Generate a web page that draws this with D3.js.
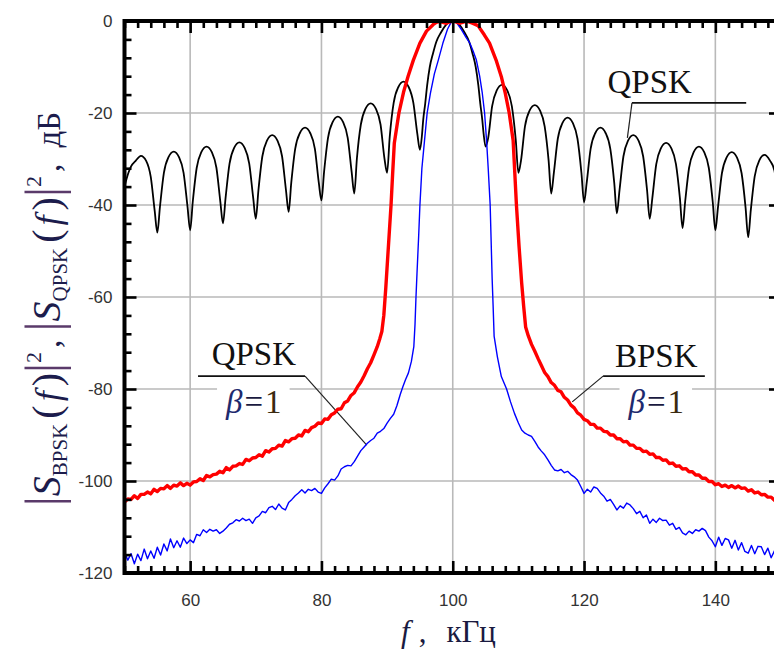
<!DOCTYPE html>
<html><head><meta charset="utf-8">
<script src="https://cdn.jsdelivr.net/npm/d3@7"></script>
<style>
html,body{margin:0;padding:0;background:#fff;overflow:hidden}
svg{display:block}
</style></head>
<body>
<svg id="chart" width="774" height="653"></svg>
<script>
// ---------------- DATA ----------------
const xTickValues = [60, 80, 100, 120, 140];
const yTickValues = [0, -20, -40, -60, -80, -100, -120];

// QPSK, rectangular pulse (black): [f kHz, dB]
const qpskRect = [
[50,-36],[50.6,-33],[51,-31.6],[51.7,-30.4],[52.5,-29.3],[53.3,-30.4],[54,-33.9],[54.6,-41.3],[55,-46],
[55.4,-40.4],[56,-33],[56.7,-29.6],[57.5,-28.4],[58.3,-29.6],[59,-33],[59.6,-40.4],[60,-45.5],
[60.4,-39.3],[61,-31.9],[61.7,-28.5],[62.5,-27.3],[63.3,-28.5],[64,-31.9],[64.6,-39.3],[65,-44],
[65.4,-38.4],[66,-31],[66.7,-27.6],[67.5,-26.4],[68.3,-27.6],[69,-31],[69.6,-38.4],[70,-43],
[70.4,-36.8],[71,-29.4],[71.7,-26],[72.5,-24.8],[73.3,-26],[74,-29.4],[74.6,-36.8],[75,-41.5],
[75.4,-35.2],[76,-27.8],[76.7,-24.4],[77.5,-23.2],[78.3,-24.4],[79,-27.8],[79.6,-35.2],[80,-39],
[80.4,-32.8],[81,-25.4],[81.7,-22],[82.5,-20.8],[83.3,-22],[84,-25.4],[84.6,-32.8],[85,-37.5],
[85.4,-29.9],[86,-22.5],[86.7,-19.1],[87.5,-17.9],[88.3,-19.1],[89,-22.5],[89.6,-29.9],[90,-33],
[90.4,-25.2],[91,-17.8],[91.7,-14.4],[92.5,-13.2],[93.3,-14.4],[94,-17.8],[94.6,-24.5],[95,-28],
[95.3,-25],[95.5,-21.5],[95.8,-18],[96.1,-14],[96.5,-10],[97,-7],[97.5,-4.5],[98.2,-2.5],[99,-0.8],[99.6,-0.1],[100,0],
[100.4,-0.1],[101,-0.8],[101.8,-2.5],[102.5,-4.5],[103,-7],[103.5,-10],[103.9,-14],[104.2,-18],[104.5,-21.5],[104.7,-24.5],[105,-27.3],
[105.4,-25.4],[106,-18.5],[106.7,-15.1],[107.5,-13.9],[108.3,-15.1],[109,-18.5],[109.6,-25.9],[110,-33],
[110.4,-30.3],[111,-22.9],[111.7,-19.5],[112.5,-18.3],[113.3,-19.5],[114,-22.9],[114.6,-30.3],[115,-37.5],
[115.4,-33],[116,-25.6],[116.7,-22.2],[117.5,-21],[118.3,-22.2],[119,-25.6],[119.6,-33],[120,-39.4],
[120.4,-35.2],[121,-27.8],[121.7,-24.4],[122.5,-23.2],[123.3,-24.4],[124,-27.8],[124.6,-35.2],[125,-41.8],
[125.4,-36.8],[126,-29.4],[126.7,-26],[127.5,-24.8],[128.3,-26],[129,-29.4],[129.6,-36.8],[130,-43],
[130.4,-38.5],[131,-31.1],[131.7,-27.7],[132.5,-26.5],[133.3,-27.7],[134,-31.1],[134.6,-38.5],[135,-45],
[135.4,-39.3],[136,-31.9],[136.7,-28.5],[137.5,-27.3],[138.3,-28.5],[139,-31.9],[139.6,-39.3],[140,-45.5],
[140.4,-40.5],[141,-33.1],[141.7,-29.7],[142.5,-28.5],[143.3,-29.7],[144,-33.1],[144.6,-40.5],[145,-47],
[145.4,-41.1],[146,-33.7],[146.7,-30.3],[147.5,-29.1],[148.3,-30.3],[149,-32.5],[149.6,-40],[150,-46]
];

// BPSK, raised cosine beta=1 (red)
const bpskTailLeft = [
[50,-104.6],[50.5,-103.9],[51,-104.0],[51.5,-103.2],[52,-103.8],[52.5,-102.9],[53,-102.9],[53.5,-102.4],[54,-102.8],[54.5,-101.8],
[55,-102.3],[55.5,-101.6],[56,-101.7],[56.5,-101.0],[57,-101.6],[57.5,-100.9],[58,-101.1],[58.5,-100.4],[59,-101.0],[59.5,-100.5],
[60,-100.9],[60.5,-100.2],[61,-100.1],[61.5,-99.5],[62,-99.9],[62.5,-98.8],[63,-99.1],[63.5,-98.6],[64,-98.5],[64.5,-97.9],
[65,-98.2],[65.5,-97.1],[66,-97.6],[66.5,-96.8],[67,-96.7],[67.5,-96.2],[68,-96.4],[68.5,-95.3],[69,-95.6],[69.5,-95.0],
[70,-94.9],[70.5,-94.3],[71,-94.6],[71.5,-93.4],[72,-93.7],[72.5,-93.0],[73,-92.9],[73.5,-92.2],[74,-92.4],[74.5,-91.2],
[75,-91.5],[75.5,-90.8],[76,-90.7],[76.5,-90.0],[77,-90.2],[77.5,-89.0],[78,-89.3],[78.5,-88.4],[79,-88.1],[79.5,-87.4],
[80,-87.5],[80.5,-86.5],[81,-86.6],[81.5,-85.6],[82,-85.2],[82.5,-84.4],[83,-84.3],[83.5,-83.0],[84,-82.6],[84.5,-81.4],
[85,-80.8],[85.5,-79.5],[86,-78.5],[86.5,-77.1],[87,-75.6],[87.5,-74.3],[88,-72.6],[88.5,-70.8],[88.9,-69]
];
const bpskMain = [
[89.2,-67.5],[89.5,-64],[89.8,-58],[90.2,-49],[90.6,-40],[90.85,-33],[91.1,-26.5],[91.8,-20],[92.5,-15.5],[93.2,-12],
[94,-8.5],[95,-4.8],[96,-2.2],[97,-0.8],[97.5,-0.3],[98,-0.1],[98.5,-0.3],[99,-0.5],[99.5,-0.2],[100,0],
[100.5,-0.2],[101,-0.5],[101.5,-0.3],[102,-0.1],[102.5,-0.2],[103,-0.5],[103.85,-1],[104.8,-3],[105.6,-4.8],[106.6,-8.5],
[107.4,-12.1],[108,-15.7],[108.6,-20],[109.2,-26],[109.7,-40],[110.1,-49],[110.5,-57],[110.8,-62],[111.1,-66.5]
];
const bpskTailRight = [
[111.5,-68.4],[112,-70.3],[112.5,-71.8],[113,-73.4],[113.5,-74.9],[114,-76.4],[114.5,-77.3],[115,-78.6],[115.5,-79.2],[116,-80.3],
[116.5,-80.6],[117,-81.8],[117.5,-82.4],[118,-83.5],[118.5,-84.1],[119,-85.2],[119.5,-85.7],[120,-86.6],[120.5,-86.9],[121,-87.7],
[121.5,-87.7],[122,-88.5],[122.5,-88.5],[123,-89.2],[123.5,-89.3],[124,-90.0],[124.5,-90.0],[125,-90.8],[125.5,-90.8],[126,-91.5],
[126.5,-91.4],[127,-92.2],[127.5,-92.2],[128,-92.9],[128.5,-92.9],[129,-93.6],[129.5,-93.5],[130,-94.2],[130.5,-94.1],[131,-94.9],
[131.5,-94.9],[132,-95.5],[132.5,-95.4],[133,-96.2],[133.5,-96.1],[134,-96.8],[134.5,-96.7],[135,-97.4],[135.5,-97.3],[136,-98.0],
[136.5,-98.0],[137,-98.7],[137.5,-98.7],[138,-99.4],[138.5,-99.4],[139,-100.1],[139.5,-100.1],[140,-100.8],[140.5,-100.6],[141,-101.2],
[141.5,-100.9],[142,-101.4],[142.5,-101.0],[143,-101.5],[143.5,-101.1],[144,-101.6],[144.5,-101.5],[145,-102.2],[145.5,-101.9],[146,-102.6],
[146.5,-102.4],[147,-103.0],[147.5,-102.9],[148,-103.5],[148.5,-103.5],[149,-104.2],[149.5,-104.0],[150,-104.6]
];

// QPSK, raised cosine beta=1 (blue)
const qpskTailLeft = [
[50,-115.5],[50.5,-117.2],[51,-115.8],[51.5,-118],[52,-115.9],[52.5,-117.3],[53,-114.8],[53.5,-116.9],[54,-115.2],[54.5,-116.8],
[55,-114.4],[55.5,-116.1],[56,-113.7],[56.5,-115.2],[57,-112.6],[57.5,-114.5],[58,-113],[58.5,-114.4],[59,-112.4],[59.5,-113.6],
[60,-112.8],[60.5,-113.4],[61,-111.6],[61.5,-111.9],[62,-110.6],[62.5,-111.2],[63,-110.5],[63.5,-110.9],[64,-110.6],[64.5,-111.4],
[65,-110.9],[65.5,-110.2],[66,-109.4],[66.5,-109.1],[67,-108.4],[67.5,-108.7],[68,-108.1],[68.5,-108.6],[69,-108.3],[69.5,-109.2],
[70,-108],[70.5,-107.6],[71,-106.6],[71.5,-106.9],[72,-105.8],[72.5,-105.5],[73,-106.2],[73.5,-105],[74,-105.9],[74.5,-106.3],
[75,-104.7],[75.5,-104],[76,-103.2],[76.5,-102.6],[77,-101.9],[77.5,-102.6],[78,-101.8],[78.5,-102.1],[79,-101.6],[79.5,-102.4],
[80,-102.7],[80.5,-101.5],[81,-100.6],[81.5,-99.6],[82,-99.8],[82.5,-98.9],[83,-97.4],[83.5,-96.9],[84,-96.6],[84.5,-96.7],
[85,-95.8],[85.5,-94.6],[86,-93.4],[86.5,-92.6],[87,-91.8],[87.5,-91.2],[88,-90.7],[88.5,-89.6],[89,-89.2],[89.5,-88.6],
[90,-87.4],[90.5,-86.4],[91,-85.5],[91.5,-83.6],[92,-81.2],[92.4,-79.5],[92.8,-78],[93.25,-76.5],[93.7,-74]
];
const qpskMain = [
[94.07,-70.8],[94.25,-66],[94.4,-60],[94.55,-55],[94.8,-47],[95,-40],[95.3,-32],[95.7,-26],[96.1,-20],[96.6,-15.7],
[97.2,-11.5],[97.8,-8.5],[98.5,-4.8],[99.2,-1.8],[99.7,-0.4],[100.1,0],[100.6,-0.4],[101.3,-1.8],[102,-3.5],[102.6,-4.8],
[103.1,-6.5],[103.6,-8.5],[104.1,-12],[104.5,-15.7],[104.85,-20],[105.15,-26],[105.4,-32],[105.7,-40],[105.85,-48],[106,-56],
[106.15,-62],[106.3,-68.5],[106.8,-73],[107.4,-77.3]
];
const qpskTailRight = [
[108.2,-80],[108.8,-82.8],[109.4,-85.3],[110,-87.4],[110.5,-88.9],[111,-89.6],[111.5,-90],[112,-90.3],[112.5,-91.4],[113,-92.6],
[113.5,-93.5],[114,-94.3],[114.5,-95.4],[115,-96.6],[115.5,-97.6],[116,-97.8],[116.5,-97.5],[117,-98.2],[117.5,-97.9],[118,-98.6],
[118.5,-99.1],[119,-99.8],[119.5,-101.2],[120,-102.7],[120.5,-101.8],[121,-102.4],[121.5,-101.3],[122,-101.6],[122.5,-102.6],[123,-103.3],
[123.5,-104.4],[124,-104],[124.5,-105.1],[125,-106.3],[125.5,-105.4],[126,-105.9],[126.5,-104.8],[127,-105.2],[127.5,-106],[128,-107.1],
[128.5,-106.6],[129,-108],[129.5,-107.4],[130,-109.2],[130.5,-108.3],[131,-109],[131.5,-108.1],[132,-108.6],[132.5,-108.5],[133,-109.6],
[133.5,-109.2],[134,-110.5],[134.5,-110.1],[135,-111.3],[135.5,-111.7],[136,-110.9],[136.5,-111.4],[137,-110.6],[137.5,-110.9],[138,-110.3],
[138.5,-110.8],[139,-112.2],[139.5,-113],[140,-114.3],[140.5,-112.2],[141,-114],[141.5,-112.5],[142,-112.8],[142.5,-114.6],[143,-112.9],
[143.5,-115],[144,-113.4],[144.5,-115.3],[145,-115.7],[145.5,-114],[146,-115.8],[146.5,-114.2],[147,-114.3],[147.5,-116],[148,-114.6],
[148.5,-116.7],[149,-115.2],[149.5,-116.8],[150,-115.9]
];

const bpskRc = bpskTailLeft.concat(bpskMain, bpskTailRight);
const qpskRc = qpskTailLeft.concat(qpskMain, qpskTailRight);

// annotations (in data units)
const labelTop = {title: "QPSK", tx: 130, ty: -15.6, u0: 127.3, u1: 144.7, uy: -17.8, px: 126.6, py: -25.4};
const labelLeft = {title: "QPSK", tx: 69.7, ty: -74.8, u0: 61.2, u1: 77.5, uy: -77.2, px: 86.9, py: -92.2, sub: "1", sy: -85.2};
const labelRight = {title: "BPSK", tx: 131, ty: -75.2, u0: 122.9, u1: 138.4, uy: -77.2, px: 118.2, py: -82.8, sub: "1", sy: -85.2};

// ---------------- DRAWING ----------------
const svg = d3.select("#chart");
const x = d3.scaleLinear().domain([50, 150]).range([124.5, 781]);
const y = d3.scaleLinear().domain([-120, 0]).range([573, 21]);
const [X0, X1] = x.range(), [Y1, Y0] = y.range();

const serif = "'Liberation Serif','Times New Roman',serif";
const sans = "'Liberation Sans',Arial,sans-serif";

svg.append("defs").append("clipPath").attr("id", "clip")
  .append("rect").attr("x", X0).attr("y", Y0).attr("width", X1 - X0).attr("height", Y1 - Y0);

// grid
const grid = svg.append("g").attr("stroke", "#b9b9b9").attr("stroke-width", 1.6);
grid.selectAll(".gx").data(xTickValues).join("line")
  .attr("x1", d => x(d)).attr("x2", d => x(d)).attr("y1", Y0).attr("y2", Y1);
grid.selectAll(".gy").data(yTickValues.filter(d => d > -120 && d < 0)).join("line")
  .attr("y1", d => y(d)).attr("y2", d => y(d)).attr("x1", X0).attr("x2", X1);

// black curve
const plot = svg.append("g").attr("clip-path", "url(#clip)");
plot.append("path").datum(qpskRect)
  .attr("d", d3.line().x(d => x(d[0])).y(d => y(d[1])).curve(d3.curveMonotoneX))
  .attr("fill", "none").attr("stroke", "#000").attr("stroke-width", 1.8);

// annotation labels
function drawLabel(L) {
  const g = svg.append("g");
  g.append("text").attr("x", x(L.tx)).attr("y", y(L.ty)).attr("text-anchor", "middle")
    .attr("font-family", serif).attr("font-size", 33).attr("fill", "#111").text(L.title);
  if (L.sub) {
    const s = g.append("text").attr("x", x(L.tx)).attr("y", y(L.sy)).attr("text-anchor", "middle")
      .attr("font-family", serif).attr("font-size", 33).attr("fill", "#1a1a40");
    s.append("tspan").attr("font-style", "italic").attr("fill", "#1e2a6e").text("β");
    s.append("tspan").attr("dx", 2).text("=");
    s.append("tspan").attr("dx", 2).attr("fill", "#3a2a10").text(L.sub);
    const bb = s.node().getBBox();
    g.insert("rect", "text").attr("x", bb.x - 8).attr("y", bb.y + 4).attr("width", bb.width + 16)
      .attr("height", bb.height - 6).attr("fill", "#fff");
  }
  g.append("line").attr("x1", x(L.u0)).attr("x2", x(L.u1)).attr("y1", y(L.uy)).attr("y2", y(L.uy))
    .attr("stroke", "#111").attr("stroke-width", 1.6);
  const pStart = L.px > L.u1 ? L.u1 : L.u0;
  g.append("line").attr("x1", x(pStart)).attr("y1", y(L.uy)).attr("x2", x(L.px)).attr("y2", y(L.py))
    .attr("stroke", "#222").attr("stroke-width", 1.2);
}
drawLabel(labelLeft);
drawLabel(labelRight);
drawLabel(labelTop);

// red & blue curves
const plot2 = svg.append("g").attr("clip-path", "url(#clip)");
plot2.append("path").datum(qpskRc)
  .attr("d", d3.line().x(d => x(d[0])).y(d => y(d[1])))
  .attr("fill", "none").attr("stroke", "#0000ff").attr("stroke-width", 1.4).attr("stroke-linejoin", "round");
plot2.append("path").datum(bpskRc)
  .attr("d", d3.line().x(d => x(d[0])).y(d => y(d[1])))
  .attr("fill", "none").attr("stroke", "#ff0000").attr("stroke-width", 3.4).attr("stroke-linejoin", "round");

// axes / ticks
const xMinor = d3.range(50, 151, 2).filter(d => !xTickValues.includes(d));
const yMinor = d3.range(-120, 1, 4).filter(d => !yTickValues.includes(d));
function tickStyle(g) {
  g.select(".domain").remove();
  g.selectAll(".tick line").attr("stroke", "#000").attr("stroke-width", 2.6);
}
const fmt = d => String(d);
svg.append("g").attr("transform", `translate(0,${Y1})`)
  .call(d3.axisBottom(x).tickValues(xMinor).tickSize(-7).tickFormat("")).call(tickStyle);
svg.append("g").attr("transform", `translate(0,${Y1})`)
  .call(d3.axisBottom(x).tickValues(xTickValues).tickSize(-12).tickPadding(21).tickFormat(fmt)).call(tickStyle);
svg.append("g").attr("transform", `translate(0,${Y0})`)
  .call(d3.axisTop(x).tickValues(xMinor).tickSize(-7).tickFormat("")).call(tickStyle);
svg.append("g").attr("transform", `translate(0,${Y0})`)
  .call(d3.axisTop(x).tickValues(xTickValues).tickSize(-12).tickFormat("")).call(tickStyle);
svg.append("g").attr("transform", `translate(${X0},0)`)
  .call(d3.axisLeft(y).tickValues(yMinor).tickSize(-7).tickFormat("")).call(tickStyle);
svg.append("g").attr("transform", `translate(${X0},0)`)
  .call(d3.axisLeft(y).tickValues(yTickValues).tickSize(-12).tickPadding(12).tickFormat(fmt)).call(tickStyle);
svg.append("g").attr("transform", `translate(${X1},0)`)
  .call(d3.axisRight(y).tickValues(yMinor).tickSize(-7).tickFormat("")).call(tickStyle);
svg.append("g").attr("transform", `translate(${X1},0)`)
  .call(d3.axisRight(y).tickValues(yTickValues).tickSize(-12).tickFormat("")).call(tickStyle);
svg.selectAll(".tick text").attr("font-family", sans).attr("font-size", 17).attr("fill", "#333");

// frame
svg.append("rect").attr("x", X0).attr("y", Y0).attr("width", X1 - X0).attr("height", Y1 - Y0)
  .attr("fill", "none").attr("stroke", "#000").attr("stroke-width", 4);

// x axis title
const xt = svg.append("text").attr("x", 401).attr("y", 642).attr("text-anchor", "start")
  .attr("font-family", serif).attr("font-size", 31).attr("fill", "#1a1a40");
xt.append("tspan").attr("font-style", "italic").text("f");
xt.append("tspan").attr("dx", 9).text(",");
xt.append("tspan").attr("dx", 20).text("кГц");

// y axis title
const yt = svg.append("text").attr("transform", "translate(60,309) rotate(-90)")
  .attr("text-anchor", "middle").attr("font-family", serif).attr("font-size", 33).attr("fill", "#1c1c4c");
function absPart(sub) {
  yt.append("tspan").attr("font-size", 50).attr("fill", "#5a3a6a").text("|");
  yt.append("tspan").attr("font-style", "italic").attr("font-size", 40).text("S");
  yt.append("tspan").attr("font-size", 21).attr("dy", 7).text(sub);
  yt.append("tspan").attr("font-size", 40).attr("dy", -7).attr("dx", 5).text("(");
  yt.append("tspan").attr("font-style", "italic").attr("font-size", 36).attr("dx", 4).text("f");
  yt.append("tspan").attr("font-size", 40).attr("dx", 5).text(")");
  yt.append("tspan").attr("font-size", 50).attr("fill", "#5a3a6a").text("|");
  yt.append("tspan").attr("font-size", 22).attr("dy", -19).text("2");
  yt.append("tspan").attr("dy", 19).attr("dx", 4).text(",");
  yt.append("tspan").text(" ");
}
absPart("BPSK");
absPart("QPSK");
yt.append("tspan").attr("dx", 8).text("дБ");
</script>
</body></html>
